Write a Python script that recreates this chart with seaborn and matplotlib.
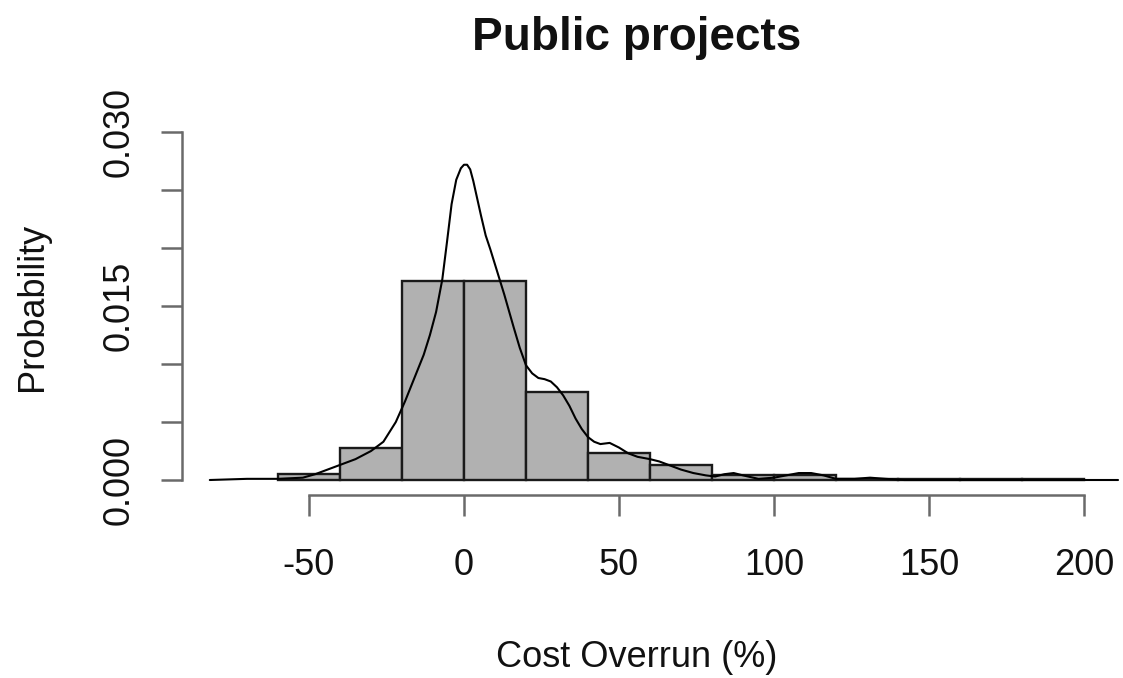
import matplotlib
matplotlib.use("Agg")
import matplotlib.pyplot as plt
import seaborn as sns

# Histogram of cost overruns (%), bins of width 20, heights as densities
bin_edges = [-60, -40, -20, 0, 20, 40, 60, 80, 100, 120, 140, 160, 180, 200]
bin_density = [0.0005, 0.0028, 0.0172, 0.0172, 0.0076, 0.0023, 0.0013,
               0.0004, 0.0004, 0.0001, 0.00005, 0.00005, 0.0001]

# Kernel density estimate of the same sample
curve_x = [-82, -70, -60, -52, -48, -44, -40, -35, -30, -26, -22, -19, -16,
           -13, -11, -9, -7, -5.5, -4, -2.5, -1, 0, 1, 2, 3, 4, 5.5, 7, 8.5,
           10, 11.5, 13, 14.5, 16, 18, 20, 22, 24, 26, 28, 30, 32, 34, 36,
           38, 40, 42, 44, 47, 50, 53, 56, 60, 63, 66, 70, 74, 78, 81, 84,
           87, 90, 95, 100, 104, 108, 112, 116, 120, 126, 131, 136, 142, 150,
           160, 180, 200, 211]
curve_y = [0.0, 0.0001, 0.0001, 0.0002, 0.0005, 0.0009, 0.0013, 0.0018,
           0.0025, 0.0033, 0.0050, 0.0068, 0.0088, 0.0108, 0.0125, 0.0145,
           0.0173, 0.0205, 0.0238, 0.0259, 0.0269, 0.0272, 0.0272, 0.0268,
           0.0258, 0.0246, 0.0228, 0.0211, 0.0199, 0.0186, 0.0173, 0.0160,
           0.0146, 0.0132, 0.0114, 0.0099, 0.0092, 0.0088, 0.0087, 0.0085,
           0.0080, 0.0073, 0.0064, 0.0053, 0.0044, 0.0037, 0.0033, 0.0031,
           0.0032, 0.0028, 0.0023, 0.0020, 0.0018, 0.0016, 0.0013, 0.0009,
           0.0006, 0.0004, 0.0003, 0.0005, 0.0006, 0.0004, 0.0001, 0.0002,
           0.0004, 0.0006, 0.0006, 0.0004, 0.0001, 0.0001, 0.0002, 0.0001,
           0.0, 0.0, 0.0, 0.0, 0.0, 0.0]

x_ticks = [-50, 0, 50, 100, 150, 200]
y_ticks = [0.000, 0.005, 0.010, 0.015, 0.020, 0.025, 0.030]
y_tick_labels = ["0.000", "", "", "0.015", "", "", "0.030"]

sns.set_theme(style="ticks")
plt.rcParams["font.family"] = ["Liberation Sans", "DejaVu Sans"]

W, H = 1123, 678
fig = plt.figure(figsize=(W / 100, H / 100), dpi=100)
left_px, right_px, bottom_px, top_px = 182, 1092, 495, 120
span_px = bottom_px - top_px
ax = fig.add_axes([left_px / W, 1 - bottom_px / H,
                   (right_px - left_px) / W, span_px / H])

mids = [(a + b) / 2 for a, b in zip(bin_edges[:-1], bin_edges[1:])]
sns.histplot(x=mids, weights=bin_density, bins=bin_edges, stat="count",
             color="#b1b1b1", edgecolor="#1a1a1a", linewidth=1.7, alpha=1,
             ax=ax)
sns.lineplot(x=curve_x, y=curve_y, color="black", linewidth=1.5, ax=ax)
ax.lines[-1].set_clip_on(False)

ax.set_xlim(-90.97, 202.6)
ax.set_ylim(-0.001294, 0.03106)

for s in ["top", "right"]:
    ax.spines[s].set_visible(False)
for s in ["left", "bottom"]:
    ax.spines[s].set_color("#6a6a6a")
    ax.spines[s].set_linewidth(1.8)
ax.spines["left"].set_bounds(0, 0.03)
ax.spines["bottom"].set_bounds(-50, 200)

ax.set_xticks(x_ticks)
ax.set_xticklabels([str(t) for t in x_ticks])
ax.set_yticks(y_ticks)
ax.set_yticklabels(y_tick_labels, rotation=90, va="center")
ax.tick_params(axis="both", length=15, width=1.8, color="#6a6a6a",
               labelsize=26, labelcolor="#111111", direction="out")
ax.tick_params(axis="x", pad=23)
ax.tick_params(axis="y", pad=18)

ax.set_xlabel("Cost Overrun (%)", fontsize=26, color="#111111")
ax.set_ylabel("Probability", fontsize=26, color="#111111")
ax.xaxis.set_label_coords(0.5, (bottom_px - 640) / span_px)
ax.yaxis.set_label_coords((50 - left_px) / (right_px - left_px), 0.501)
ax.set_title("Public projects", fontsize=33, fontweight="bold",
             color="#111111", pad=0, y=(bottom_px - 50) / span_px,
             va="baseline")
ax.grid(False)

fig.savefig("out.png", dpi=100)
